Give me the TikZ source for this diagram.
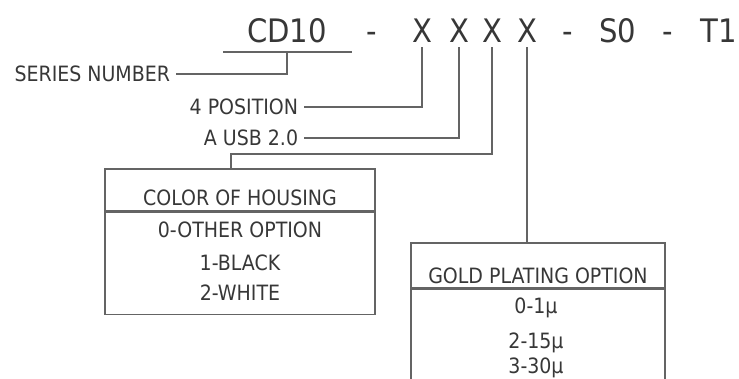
\documentclass[tikz,border=0pt]{standalone}
\usepackage{fontspec}
\setmainfont{DejaVu Sans Condensed}
\usepackage{tikz}
\usetikzlibrary{calc}
\definecolor{encre}{RGB}{55,55,55}
\definecolor{trait}{RGB}{100,100,100}
\tikzset{
	haut/.style={anchor=base,inner sep=0.125cm,text=encre,font=\fontsize{23}{26}\selectfont},
	lbl/.style={anchor=east,inner sep=4pt,text=encre},
	txt/.style={anchor=base,inner sep=0pt,text=encre},
	cadre/.style={draw=trait,line width=0.8pt,inner sep=0pt},
	ligne/.style={draw=trait,line width=0.8pt}
}

\begin{document}
\begin{tikzpicture}[x=0.025cm,y=-0.025cm,font=\fontsize{15}{18}\selectfont]
	\useasboundingbox (0,0) rectangle (739,378);
	\clip (0,0) rectangle (739,378);
	\node[haut] (cd) at (287,42) {CD10};
	\node[haut] (d1) at (372,42) {-};
	\foreach \nom/\xx in {x1/422,x2/459,x3/492,x4/527}{
		\node[haut] (\nom) at (\xx,42) {X};
	}
	\node[haut] (d2) at (568,42) {-};
	\node[haut] (s0) at (618,42) {S0};
	\node[haut] (d3) at (668,42) {-};
	\node[haut] (t1) at (719,42) {T1};
	
	\node[lbl] (serie) at (176,74) {SERIES NUMBER};
	\node[lbl] (pos) at (304,107) {4 POSITION};
	\node[lbl] (usb) at (304,138) {A USB 2.0};
	
	\node[cadre,minimum width=6.75cm,minimum height=1.05cm] (coul) at (240,190) {};
	\node[cadre,minimum width=6.75cm,minimum height=2.55cm,anchor=north] (coulb) at (coul.south) {};
	\node[txt] (coult) at (240,205) {COLOR OF HOUSING};
	\foreach \lib/\yy [count=\i] in {0-OTHER OPTION/237,1-BLACK/270,2-WHITE/300}{
		\node[txt] (coul\i) at (240,\yy) {\lib};
	}
	
	\node[cadre,minimum width=6.35cm,minimum height=1.125cm] (or) at (538,265.5) {};
	\node[cadre,minimum width=6.35cm,minimum height=3cm,anchor=north] (orb) at (or.south) {};
	\node[txt] (ort) at (538,283) {GOLD PLATING OPTION};
	\foreach \lib/\yy [count=\i] in {0-1µ/313,2-15µ/348,3-30µ/373}{
		\node[txt] (or\i) at (536,\yy) {\lib};
	}
	
	\coordinate (barg) at (223,52);
	\coordinate (bard) at (352,52);
	\draw[ligne] (barg) -- (bard);
	\draw[ligne] (cd.base |- barg) |- (serie.east);
	\draw[ligne] (x1.south) |- (pos.east);
	\draw[ligne] (x2.south) |- (usb.east);
	\coordinate (coude) at (231,154);
	\draw[ligne] (x3.south) |- (coude) -- (coude |- coul.north);
	\draw[ligne] (x4.south) -- (x4.south |- or.north);
\end{tikzpicture}
\end{document}
